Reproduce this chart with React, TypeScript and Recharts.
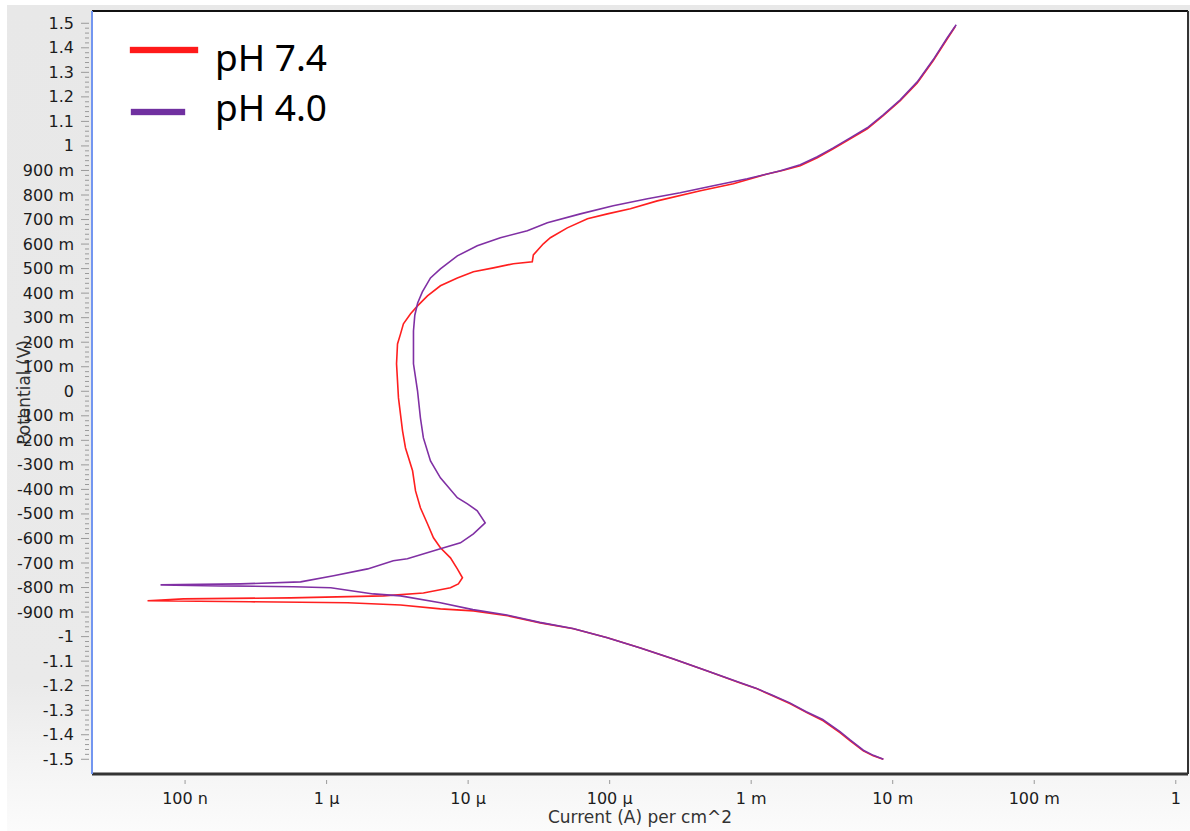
import React from "react";
import { CartesianGrid, Label, Legend, Line, LineChart, ReferenceLine, XAxis, YAxis } from "recharts";

// Polarisation curves: current density (A/cm^2) and potential (V), in sweep order
const ph74Current = [
  8.57e-3, 7.28e-3, 6.2e-3, 5.01e-3, 4.26e-3, 3.23e-3, 2.49e-3, 1.89e-3, 1.43e-3, 1.1e-3, 8.38e-4, 4.9e-4, 2.82e-4,
  1.65e-4, 9.64e-5, 5.55e-5, 3.24e-5, 1.9e-5, 1.09e-5, 6.37e-6, 3.33e-6, 1.41e-6, 2.9e-7, 5.43e-8, 9.76e-8, 5.56e-7,
  2.52e-6, 4.83e-6, 7.5e-6, 8.53e-6, 9.12e-6, 8.39e-6, 7.5e-6, 6.37e-6, 5.69e-6, 5.16e-6, 4.6e-6, 4.25e-6, 4.05e-6,
  3.61e-6, 3.44e-6, 3.22e-6, 3.12e-6, 3.17e-6, 3.33e-6, 3.49e-6, 3.92e-6, 4.39e-6, 5.16e-6, 6.37e-6, 8.39e-6, 1.09e-5,
  1.51e-5, 2.09e-5, 2.84e-5, 2.89e-5, 3.4e-5, 3.81e-5, 5.02e-5, 6.97e-5, 9.64e-5, 1.4e-4, 2.17e-4, 4.38e-4, 7.48e-4,
  1.3e-3, 1.69e-3, 2.22e-3, 2.93e-3, 3.8e-3, 5.01e-3, 6.61e-3, 8.57e-3, 1.13e-2, 1.49e-2, 1.93e-2, 2.43e-2, 2.76e-2
];
const ph74Potential = [
  -1.5, -1.486, -1.466, -1.425, -1.392, -1.343, -1.311, -1.274, -1.242, -1.213, -1.189, -1.14, -1.091, -1.046, -1.005,
  -0.968, -0.944, -0.915, -0.895, -0.887, -0.871, -0.862, -0.858, -0.854, -0.846, -0.842, -0.834, -0.822, -0.801,
  -0.785, -0.76, -0.724, -0.679, -0.638, -0.597, -0.54, -0.475, -0.406, -0.324, -0.231, -0.161, -0.027, 0.112, 0.193,
  0.234, 0.275, 0.316, 0.348, 0.389, 0.43, 0.462, 0.487, 0.503, 0.52, 0.528, 0.556, 0.601, 0.626, 0.666, 0.703, 0.723,
  0.744, 0.776, 0.817, 0.846, 0.886, 0.901, 0.919, 0.952, 0.988, 1.029, 1.07, 1.123, 1.184, 1.257, 1.347, 1.437, 1.486
];

const ph40Current = [
  8.6e-3, 7.3e-3, 6.2e-3, 5.0e-3, 4.24e-3, 3.2e-3, 2.45e-3, 1.86e-3, 1.4e-3, 1.08e-3, 8.2e-4, 4.8e-4, 2.8e-4, 1.63e-4,
  9.5e-5, 5.5e-5, 3.2e-5, 1.88e-5, 1.08e-5, 6.37e-6, 3.33e-6, 2.14e-6, 1.07e-6, 5.83e-7, 1.78e-7, 6.71e-8, 2.47e-7,
  6.55e-7, 1.12e-6, 1.95e-6, 2.96e-6, 3.72e-6, 6.37e-6, 8.83e-6, 1.09e-5, 1.32e-5, 1.16e-5, 9.89e-6, 8.39e-6, 6.37e-6,
  5.42e-6, 4.83e-6, 4.6e-6, 4.39e-6, 4.11e-6, 4.11e-6, 4.2e-6, 4.4e-6, 4.75e-6, 5.42e-6, 6.37e-6, 8.39e-6, 1.16e-5,
  1.69e-5, 2.62e-5, 3.63e-5, 6.21e-5, 1.06e-4, 1.85e-4, 3.15e-4, 5.4e-4, 9.38e-4, 1.61e-3, 2.22e-3, 2.93e-3, 3.8e-3,
  5.01e-3, 6.61e-3, 8.57e-3, 1.13e-2, 1.49e-2, 1.93e-2, 2.43e-2, 2.81e-2
];
const ph40Potential = [
  -1.5, -1.484, -1.463, -1.421, -1.387, -1.338, -1.306, -1.269, -1.238, -1.21, -1.186, -1.138, -1.09, -1.045, -1.004,
  -0.967, -0.942, -0.912, -0.89, -0.862, -0.834, -0.826, -0.801, -0.797, -0.793, -0.789, -0.785, -0.777, -0.752,
  -0.724, -0.691, -0.683, -0.642, -0.618, -0.581, -0.536, -0.487, -0.459, -0.434, -0.353, -0.284, -0.19, -0.108, 0.002,
  0.112, 0.246, 0.31, 0.36, 0.405, 0.462, 0.499, 0.552, 0.593, 0.626, 0.654, 0.687, 0.723, 0.756, 0.785, 0.809, 0.838,
  0.866, 0.899, 0.923, 0.956, 0.992, 1.033, 1.074, 1.127, 1.188, 1.261, 1.351, 1.441, 1.494
];

const xTicks = [1e-7, 1e-6, 1e-5, 1e-4, 1e-3, 1e-2, 1e-1, 1];
const xTickLabels = ["100 n", "1 μ", "10 μ", "100 μ", "1 m", "10 m", "100 m", "1"];

const yMajorTicks = [
  1.5, 1.4, 1.3, 1.2, 1.1, 1, 0.9, 0.8, 0.7, 0.6, 0.5, 0.4, 0.3, 0.2, 0.1, 0, -0.1, -0.2, -0.3, -0.4, -0.5, -0.6, -0.7,
  -0.8, -0.9, -1, -1.1, -1.2, -1.3, -1.4, -1.5
];
const yTickLabels = [
  "1.5", "1.4", "1.3", "1.2", "1.1", "1", "900 m", "800 m", "700 m", "600 m", "500 m", "400 m", "300 m", "200 m",
  "100 m", "0", "-100 m", "-200 m", "-300 m", "-400 m", "-500 m", "-600 m", "-700 m", "-800 m", "-900 m", "-1", "-1.1",
  "-1.2", "-1.3", "-1.4", "-1.5"
];

const series = [
  { name: "pH 7.4", color: "#ff1f1f", swatch: "#ff1a1a", current: ph74Current, potential: ph74Potential },
  { name: "pH 4.0", color: "#8030a4", swatch: "#7030a0", current: ph40Current, potential: ph40Potential }
];

const xDomain = [2.2e-8, 1.22];
const yDomain = [-1.56, 1.55];

// minor ticks every 20 mV between the labelled ones
const yAllTicks: number[] = [];
for (let k = -75; k <= 75; k++) yAllTicks.push(Math.round(k * 2) / 100);

const FONT = "'DejaVu Sans', Verdana, sans-serif";

const YTick = (props: any) => {
  const { x, y, payload } = props;
  const idx = yMajorTicks.findIndex((t) => Math.abs(t - payload.value) < 1e-6);
  const major = idx >= 0;
  return (
    <g>
      <line x1={x - (major ? 9 : 5)} x2={x - 1} y1={y} y2={y} stroke="#9a9a9a" strokeWidth={1} />
      {major && (
        <text x={x - 16} y={y + 5.5} textAnchor="end" fontFamily={FONT} fontSize={16} fill="#1c1c1c">
          {yTickLabels[idx]}
        </text>
      )}
    </g>
  );
};

const XTick = (props: any) => {
  const { x, y, payload } = props;
  const idx = xTicks.findIndex((t) => Math.abs(Math.log10(t) - Math.log10(payload.value)) < 1e-6);
  return (
    <g>
      <line x1={x} x2={x} y1={y + 4} y2={y + 8} stroke="#9a9a9a" strokeWidth={1} />
      <text x={x} y={y + 28} textAnchor="middle" fontFamily={FONT} fontSize={16} fill="#1c1c1c">
        {idx >= 0 ? xTickLabels[idx] : ""}
      </text>
    </g>
  );
};

const YTitle = (props: any) => {
  const vb = props.viewBox || { x: 0, y: 6, width: 85, height: 763 };
  const cx = vb.x + 23;
  const cy = vb.y + vb.height / 2;
  return (
    <text
      x={cx}
      y={cy}
      transform={`rotate(-90, ${cx}, ${cy})`}
      textAnchor="middle"
      fontFamily={FONT}
      fontSize={17}
      fill="#333">
      Potential (V)
    </text>
  );
};

const XTitle = (props: any) => {
  const vb = props.viewBox || { x: 85, y: 769, width: 1096, height: 57 };
  return (
    <text x={vb.x + vb.width / 2} y={vb.y + 49} textAnchor="middle" fontFamily={FONT} fontSize={17} fill="#333">
      Current (A) per cm^2
    </text>
  );
};

const swatchPos = [
  { left: 3, top: 12, width: 68 },
  { left: 4, top: 74, width: 54 }
];

const renderLegend = () => (
  <div style={{ position: "relative", width: 230, height: 110 }}>
    {series.map((s, i) => (
      <React.Fragment key={s.name}>
        <div
          style={{
            position: "absolute",
            left: swatchPos[i].left,
            top: swatchPos[i].top,
            width: swatchPos[i].width,
            height: 6,
            background: s.swatch,
            boxShadow: `0 0 1px ${s.swatch}`
          }}
        />
        <div
          style={{
            position: "absolute",
            left: 88,
            top: 3 + i * 50,
            fontFamily: "'Noto Sans', 'Open Sans', sans-serif",
            fontSize: 37,
            lineHeight: 1,
            color: "#000",
            whiteSpace: "nowrap"
          }}>
          {s.name}
        </div>
      </React.Fragment>
    ))}
  </div>
);

export default function App() {
  const lineData = series.map((s) => s.current.map((i, k) => ({ i, e: s.potential[k] })));

  return (
    <div
      style={{
        position: "absolute",
        left: 7,
        top: 5,
        width: 1183,
        height: 826,
        background: "linear-gradient(180deg, #e8e8e8 0%, #eaeaea 82%, #f5f5f5 93%, #fbfbfb 100%)"
      }}>
      <LineChart width={1183} height={826} margin={{ top: 6, right: 2, bottom: 0, left: 0 }}>
        <CartesianGrid fill="#ffffff" horizontal={false} vertical={false} />
        <XAxis
          dataKey="i"
          type="number"
          scale="log"
          domain={xDomain}
          allowDataOverflow
          ticks={xTicks}
          interval={0}
          height={57}
          tickSize={0}
          tickLine={false}
          tick={<XTick />}
          axisLine={{ stroke: "#333", strokeWidth: 3 }}>
          <Label content={<XTitle />} />
        </XAxis>
        <YAxis
          type="number"
          domain={yDomain}
          allowDataOverflow
          ticks={yAllTicks}
          interval={0}
          width={85}
          tickSize={0}
          tickLine={false}
          tick={<YTick />}
          axisLine={{ stroke: "#7396f0", strokeWidth: 2 }}>
          <Label content={<YTitle />} />
        </YAxis>
        <ReferenceLine y={yDomain[1]} stroke="#111" strokeWidth={2} ifOverflow="extendDomain" />
        <ReferenceLine x={xDomain[1]} stroke="#333" strokeWidth={2} ifOverflow="extendDomain" />
        {series.map((s, k) => (
          <Line
            key={s.name}
            data={lineData[k]}
            dataKey="e"
            name={s.name}
            type="linear"
            stroke={s.color}
            strokeWidth={1.6}
            dot={false}
            activeDot={false}
            isAnimationActive={false}
          />
        ))}
        <Legend
          content={renderLegend}
          layout="vertical"
          align="center"
          verticalAlign="middle"
          wrapperStyle={{ left: 120, top: 30, width: 230, height: 110 }}
        />
      </LineChart>
    </div>
  );
}
